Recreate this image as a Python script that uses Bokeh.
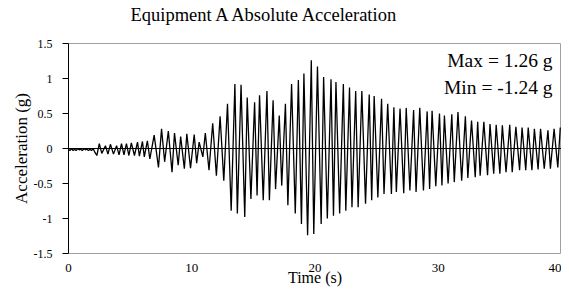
from bokeh.plotting import figure
from bokeh.models import Label, Span, FixedTicker, Range1d, LinearAxis
from bokeh.embed import file_html
from bokeh.resources import INLINE

# ---- data (times in s, acceleration in g) ----
noise_t = [0.0, 0.12, 0.25, 0.37, 0.5, 0.62, 0.75, 0.87, 1.0, 1.12, 1.25, 1.37,
           1.5, 1.62, 1.75, 1.87, 2.0, 2.1]
noise_a = [-0.01, -0.03, 0.0, -0.03, -0.01, -0.03, 0.0, -0.02, -0.01, -0.03, 0.0, -0.02,
           -0.01, -0.03, -0.01, -0.03, 0.0, -0.04]

build_t = [2.3, 2.5, 2.7, 3.0, 3.2, 3.4, 3.65, 3.9, 4.1, 4.3, 4.5, 4.7, 4.9, 5.1, 5.35,
           5.6, 5.75, 6.0, 6.15, 6.4, 6.6, 6.95, 7.3, 7.55, 7.8, 8.1, 8.4, 8.6, 8.9, 9.1,
           9.4, 9.6, 9.9, 10.2, 10.4, 10.6, 10.9, 11.1, 11.4, 11.7, 12.0, 12.3, 12.6,
           12.9, 13.2]
build_a = [-0.10, 0.07, -0.07, 0.04, -0.08, 0.06, -0.08, 0.04, -0.09, 0.07, -0.09, 0.07,
           -0.10, 0.08, -0.10, 0.09, -0.11, 0.10, -0.12, 0.11, -0.15, 0.19, -0.27, 0.28,
           -0.19, 0.25, -0.34, 0.22, -0.24, 0.17, -0.29, 0.21, -0.28, 0.20, -0.21, 0.09,
           -0.12, 0.22, -0.31, 0.36, -0.39, 0.46, -0.46, 0.64, -0.89]

strong_t = [13.5, 13.7, 14.0, 14.3, 14.5, 14.8, 15.1, 15.3, 15.5, 15.8, 16.1, 16.3, 16.6,
            16.8, 17.1, 17.3, 17.6, 17.8, 18.1, 18.4, 18.65, 18.9, 19.1, 19.4, 19.7, 19.9,
            20.2, 20.5, 20.7, 21.0, 21.3, 21.5, 21.7, 22.0, 22.3, 22.5, 22.8, 23.0, 23.3,
            23.5, 23.8, 24.1, 24.4, 24.6, 24.8, 25.1, 25.4, 25.6]
strong_a = [0.92, -0.93, 0.91, -0.98, 0.73, -0.72, 0.66, -0.67, 0.76, -0.74, 0.82, -0.74,
            0.69, -0.58, 0.47, -0.53, 0.64, -0.81, 0.92, -0.93, 0.98, -1.08, 1.07, -1.24,
            1.26, -1.22, 1.17, -1.08, 1.02, -1.00, 0.99, -0.96, 0.95, -0.93, 0.92, -0.89,
            0.87, -0.84, 0.82, -0.84, 0.82, -0.79, 0.77, -0.74, 0.75, -0.70, 0.71, -0.65]

decay_t = [25.9, 26.2, 26.4, 26.6, 26.9, 27.2, 27.4, 27.7, 28.0, 28.2, 28.5, 28.8, 29.1,
           29.3, 29.5, 29.8, 30.1, 30.3, 30.5, 30.8, 31.1, 31.3, 31.6, 31.9, 32.2, 32.4,
           32.7, 33.0, 33.2, 33.4, 33.7, 34.0, 34.2, 34.5, 34.7, 35.0, 35.2, 35.5, 35.8,
           36.0, 36.3, 36.6, 36.8, 37.1, 37.3, 37.6, 37.8, 38.1, 38.3, 38.6, 38.9, 39.1,
           39.4, 39.7, 39.9]
decay_a = [0.64, -0.65, 0.59, -0.62, 0.57, -0.64, 0.58, -0.60, 0.55, -0.62, 0.58, -0.60,
           0.53, -0.58, 0.54, -0.54, 0.50, -0.53, 0.47, -0.50, 0.49, -0.48, 0.52, -0.46,
           0.46, -0.42, 0.40, -0.41, 0.38, -0.39, 0.38, -0.38, 0.35, -0.36, 0.34, -0.36,
           0.33, -0.34, 0.34, -0.34, 0.31, -0.31, 0.30, -0.31, 0.30, -0.31, 0.28, -0.30,
           0.28, -0.29, 0.26, -0.29, 0.28, -0.27, 0.30]

x_ticks = [0, 10, 20, 30, 40]
y_ticks = [-1.5, -1, -0.5, 0, 0.5, 1, 1.5]
y_tick_labels = ["-1.5", "-1", "-0.5", "0", "0.5", "1", "1.5"]

title_text = "Equipment A Absolute Acceleration"
x_label = "Time (s)"
y_label = "Acceleration (g)"
max_text = "Max = 1.26 g"
min_text = "Min = -1.24 g"

FONT = "Liberation Serif"

t = noise_t + build_t + strong_t + decay_t
a = noise_a + build_a + strong_a + decay_a

p = figure(width=561, height=289, output_backend="svg", toolbar_location=None,
           x_range=Range1d(0, 40), y_range=Range1d(-1.5, 1.5),
           min_border_left=68, min_border_right=0, min_border_top=43, min_border_bottom=36)
p.background_fill_color = "white"
p.border_fill_color = "white"
p.outline_line_color = "#a0a0a0"
p.outline_line_width = 1
p.xgrid.visible = False
p.ygrid.visible = False

p.title.text = title_text
p.title.text_font = FONT
p.title.text_font_size = "18.5px"
p.title.text_font_style = "normal"
p.title.text_color = "black"
p.title.align = "left"
p.title.offset = 62
p.title.vertical_align = "top"
p.title.standoff = 0

p.add_layout(Span(location=0, dimension="width", line_color="black", line_width=1))
p.line(t, a, line_color="black", line_width=1.3)

# y axis
ya = p.left[0]
ya.ticker = FixedTicker(ticks=y_ticks)
ya.major_label_overrides = {k: v for k, v in zip(y_ticks, y_tick_labels)}
ya.axis_line_color = "black"
ya.major_tick_line_color = "black"
ya.major_tick_in = 0
ya.major_tick_out = 6
ya.minor_tick_line_color = None
ya.major_label_text_font = FONT
ya.major_label_text_font_size = "12px"
ya.major_label_text_color = "black"
ya.major_label_standoff = 10
ya.axis_label = y_label
ya.axis_label_text_font = FONT
ya.axis_label_text_font_style = "normal"
ya.axis_label_text_font_size = "17px"
ya.axis_label_text_color = "black"
ya.axis_label_standoff = 0

# x axis (bottom)
xa = p.below[0]
xa.ticker = FixedTicker(ticks=x_ticks)
xa.axis_line_color = None
xa.major_tick_line_color = None
xa.major_tick_in = 0
xa.major_tick_out = 0
xa.minor_tick_line_color = None
xa.major_label_text_font = FONT
xa.major_label_text_font_size = "13px"
xa.major_label_text_color = "black"
xa.major_label_standoff = 10
xa.axis_label = x_label
xa.axis_label_text_font = FONT
xa.axis_label_text_font_style = "normal"
xa.axis_label_text_font_size = "16px"
xa.axis_label_text_color = "black"
xa.axis_label_standoff = -6

# empty spacer axis between the frame and the title (blank label only sets its height)
spacer = LinearAxis(ticker=FixedTicker(ticks=[]), axis_line_color=None,
                    major_tick_line_color=None, minor_tick_line_color=None,
                    major_tick_in=0, major_tick_out=0, minor_tick_out=0,
                    major_label_standoff=0, axis_label=" ",
                    axis_label_text_font_size="10px", axis_label_standoff=3)
p.add_layout(spacer, "above")

p.add_layout(Label(x=39.27, y=1.255, text=max_text, text_font=FONT, text_font_size="19.5px",
                   text_align="right", text_baseline="middle", text_color="black"))
p.add_layout(Label(x=39.27, y=0.867, text=min_text, text_font=FONT, text_font_size="19.5px",
                   text_align="right", text_baseline="middle", text_color="black"))

open("out.html", "w").write(file_html(p, INLINE))
